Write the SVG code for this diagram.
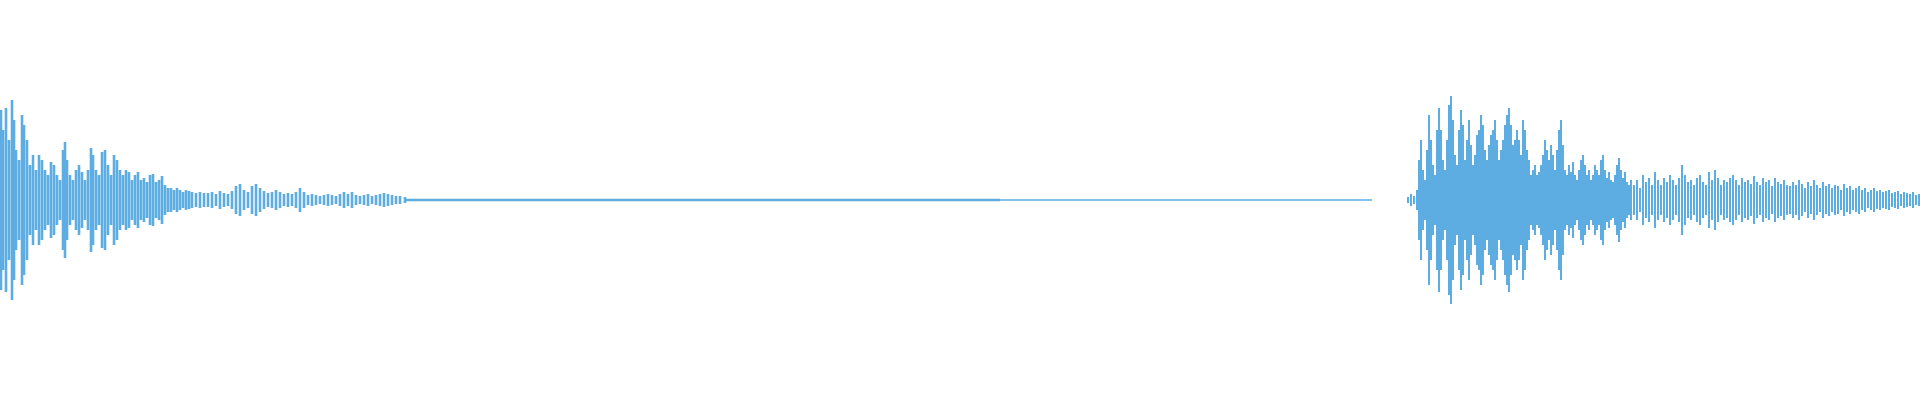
<svg xmlns="http://www.w3.org/2000/svg" width="1920" height="400" viewBox="0 0 1920 400">
<style>.w{stroke:#5dade2;fill:none;stroke-linecap:butt}</style>
<rect width="1920" height="400" fill="#ffffff"/>
<g id="waveform">
<g id="half">
<path class="w" stroke-width="2.6" d="M1 200v-90M3 200v-70M6 200v-92M9 200v-60M12 200v-100M14 200v-80M16 200v-50M19 200v-40M22 200v-85M24 200v-75M27 200v-60M30 200v-35M33 200v-45M36 200v-30M39 200v-45M42 200v-40M45 200v-30M48 200v-25M51 200v-38M54 200v-35M57 200v-25M60 200v-20M63 200v-50M65 200v-58M67 200v-40M70 200v-25M73 200v-20M76 200v-30M79 200v-35M82 200v-28M85 200v-20M88 200v-30M91 200v-52M93 200v-45M96 200v-30M99 200v-25M102 200v-48M105 200v-50M108 200v-35M111 200v-25M114 200v-45M117 200v-40M120 200v-30M123 200v-25M126 200v-30M129 200v-28M132 200v-20M135 200v-25M138 200v-28M141 200v-20M144 200v-22M147 200v-18M150 200v-25M153 200v-26M156 200v-18M159 200v-20M162 200v-24M165 200v-15M168 200v-12M171 200v-12M174 200v-10M177 200v-12M180 200v-10M183 200v-8M186 200v-10M189 200v-9M192 200v-8M196 200v-7M200 200v-8M204 200v-7M208 200v-7M212 200v-8M216 200v-6M220 200v-9M224 200v-7M228 200v-6M232 200v-9M236 200v-14M240 200v-16M244 200v-10M248 200v-8M252 200v-14M256 200v-16M260 200v-12M264 200v-9M268 200v-7M272 200v-8M276 200v-10M280 200v-8M284 200v-6M288 200v-7M292 200v-6M296 200v-8M300 200v-12M304 200v-8M308 200v-5M312 200v-6M316 200v-5M320 200v-4M324 200v-5M328 200v-6M332 200v-5M336 200v-4M340 200v-6M344 200v-8M348 200v-6M352 200v-8M356 200v-5M360 200v-4M364 200v-5M368 200v-6M372 200v-4M376 200v-5M380 200v-6M384 200v-7M388 200v-6M392 200v-5M396 200v-4M400 200v-4M405 200v-3"/>
<path class="w" stroke-width="2" d="M1408 200v-3M1411 200v-6M1414 200v-4M1417 200v-10M1419 200v-40M1421 200v-60M1423 200v-30M1425 200v-20M1427 200v-50M1429 200v-85M1431 200v-60M1433 200v-35M1435 200v-25M1437 200v-70M1439 200v-92M1441 200v-70M1443 200v-40M1445 200v-30M1447 200v-60M1449 200v-95M1451 200v-104M1453 200v-80M1455 200v-45M1457 200v-35M1459 200v-70M1461 200v-90M1463 200v-75M1465 200v-40M1467 200v-60M1469 200v-80M1471 200v-55M1473 200v-35M1475 200v-45M1477 200v-65M1479 200v-70M1481 200v-85M1483 200v-75M1485 200v-50M1487 200v-40M1489 200v-55M1491 200v-65M1493 200v-70M1495 200v-80M1497 200v-60M1499 200v-40M1501 200v-50M1503 200v-60M1505 200v-75M1507 200v-85M1509 200v-92M1511 200v-75M1513 200v-55M1515 200v-60M1517 200v-70M1519 200v-60M1521 200v-45M1523 200v-80M1525 200v-70M1527 200v-50M1529 200v-40M1531 200v-25M1533 200v-30M1535 200v-35M1537 200v-25M1539 200v-28M1541 200v-35M1543 200v-45M1545 200v-60M1547 200v-50M1549 200v-40M1551 200v-55M1553 200v-45M1555 200v-30M1557 200v-50M1559 200v-70M1561 200v-80M1563 200v-55M1565 200v-30M1567 200v-25M1569 200v-35M1571 200v-28M1573 200v-38M1575 200v-25M1577 200v-20M1579 200v-30M1581 200v-40M1583 200v-45M1585 200v-35M1587 200v-25M1589 200v-30M1591 200v-20M1593 200v-25M1595 200v-35M1597 200v-30M1599 200v-25M1601 200v-40M1603 200v-45M1605 200v-30M1607 200v-22M1609 200v-28M1611 200v-20M1613 200v-18M1615 200v-25M1617 200v-35M1619 200v-42M1621 200v-30M1623 200v-22M1625 200v-28M1627 200v-18M1629 200v-15M1631 200v-20M1634 200v-15M1637 200v-20M1640 200v-12M1643 200v-25M1646 200v-18M1649 200v-22M1652 200v-15M1655 200v-28M1658 200v-20M1661 200v-15M1664 200v-22M1667 200v-18M1670 200v-25M1673 200v-20M1676 200v-15M1679 200v-22M1682 200v-35M1685 200v-25M1688 200v-18M1691 200v-20M1694 200v-15M1697 200v-22M1700 200v-25M1703 200v-18M1706 200v-15M1709 200v-28M1712 200v-20M1715 200v-30M1718 200v-22M1721 200v-15M1724 200v-20M1727 200v-18M1730 200v-22M1733 200v-25M1736 200v-20M1739 200v-15M1742 200v-22M1745 200v-18M1748 200v-20M1751 200v-16M1754 200v-24M1757 200v-18M1760 200v-15M1763 200v-22M1766 200v-18M1769 200v-20M1772 200v-14M1775 200v-22M1778 200v-18M1781 200v-16M1784 200v-20M1787 200v-15M1790 200v-14M1793 200v-18M1796 200v-15M1799 200v-20M1802 200v-16M1805 200v-12M1808 200v-18M1811 200v-14M1814 200v-20M1817 200v-15M1820 200v-12M1823 200v-18M1826 200v-14M1829 200v-16M1832 200v-12M1835 200v-15M1838 200v-14M1841 200v-10M1844 200v-16M1847 200v-12M1850 200v-14M1853 200v-10M1856 200v-12M1859 200v-14M1862 200v-10M1865 200v-12M1868 200v-8M1871 200v-10M1874 200v-12M1877 200v-9M1880 200v-10M1883 200v-8M1886 200v-9M1889 200v-10M1892 200v-7M1895 200v-8M1898 200v-9M1901 200v-6M1904 200v-8M1907 200v-7M1910 200v-6M1913 200v-8M1916 200v-5M1919 200v-6"/>
</g>
<use href="#half" transform="translate(0,400) scale(1,-1)"/>
<path class="w" stroke-width="2.4" d="M405 200H1000"/>
<path class="w" stroke-width="1.4" d="M1000 200H1372"/>
</g>
</svg>
